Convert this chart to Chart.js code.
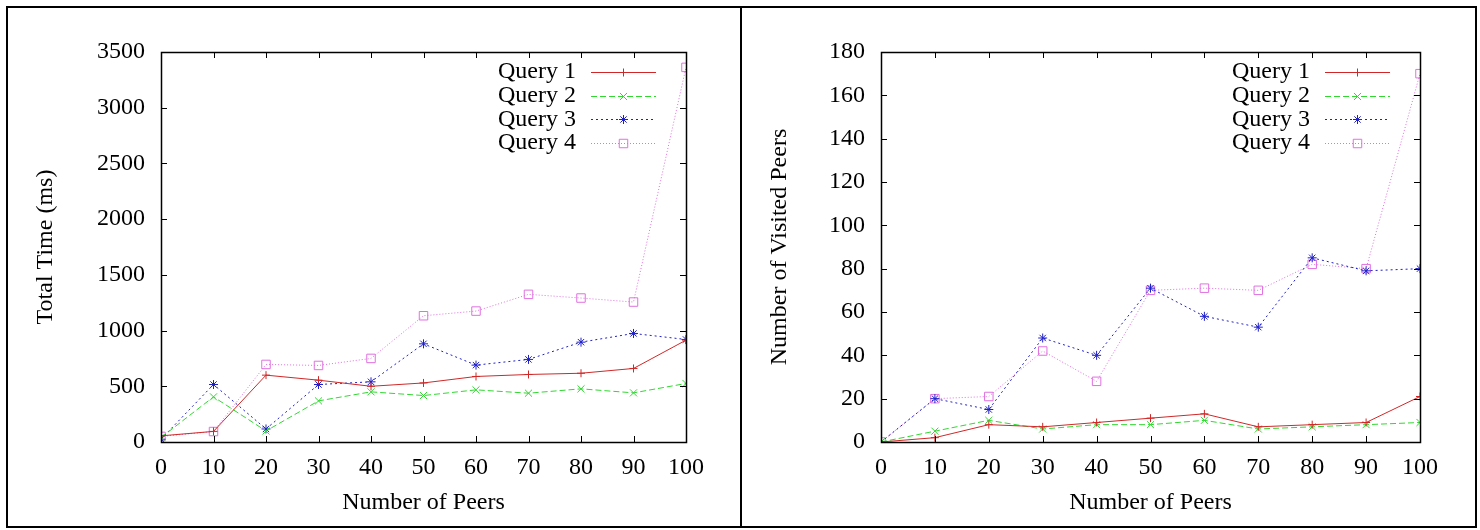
<!DOCTYPE html>
<html>
<head>
<meta charset="utf-8">
<script src="https://cdn.jsdelivr.net/npm/chart.js@4.4.1/dist/chart.umd.min.js"></script>
<style>
  html, body { margin: 0; padding: 0; background: #fff; width: 1480px; height: 530px; overflow: hidden; }
  #frame { position: absolute; left: 6px; top: 6px; width: 1467px; height: 518px; border: 2px solid #000; }
  #divider { position: absolute; left: 740px; top: 6px; width: 2px; height: 522px; background: #000; }
  #c1 { position: absolute; left: 8px; top: 8px; }
  #c2 { position: absolute; left: 742px; top: 8px; }
</style>
</head>
<body>
<div id="frame"></div>
<div id="divider"></div>
<canvas id="c1" width="732" height="518" style="width:732px;height:518px"></canvas>
<canvas id="c2" width="731" height="518" style="width:731px;height:518px"></canvas>
<script>
// ---- data ----
const peers = [0, 10, 20, 30, 40, 50, 60, 70, 80, 90, 100];
const seriesLabels = ['Query 1', 'Query 2', 'Query 3', 'Query 4'];

const timeQ1 = [55, 95, 600, 555, 500, 530, 588, 606, 617, 660, 914];
const timeQ2 = [40, 405, 99, 369, 450, 417, 468, 438, 477, 441, 525];
const timeQ3 = [25, 516, 117, 516, 540, 881, 690, 741, 896, 974, 920];
const timeQ4 = [50, 94, 696, 687, 750, 1133, 1175, 1325, 1292, 1256, 3362];

const visitQ1 = [0, 2, 8, 7, 9, 11, 13, 7, 8, 9, 21];
const visitQ2 = [0, 5, 10, 6, 8, 8, 10, 6, 7, 8, 9];
const visitQ3 = [0, 20, 15, 48, 40, 71, 58, 53, 85, 79, 80];
const visitQ4 = [0, 20, 21, 42, 28, 70, 71, 70, 82, 80, 170];

const xTicks = [0, 10, 20, 30, 40, 50, 60, 70, 80, 90, 100];
const timeTicks = [0, 500, 1000, 1500, 2000, 2500, 3000, 3500];
const visitTicks = [0, 20, 40, 60, 80, 100, 120, 140, 160, 180];

// ---- styles ----
const FONT = '"Liberation Serif", "Times New Roman", serif';
const FS = 24;
const styles = [
  { color: '#d02828', dash: [], point: 'cross', radius: 4 },
  { color: '#30d830', dash: [6, 3], point: 'crossRot', radius: 5 },
  { color: '#2020c8', dash: [2, 3], point: 'star', radius: 4.5 },
  { color: '#e070e0', dash: [1, 2], point: 'rect', radius: 6 }
];

function makeDatasets(arrs) {
  return arrs.map((vals, i) => ({
    label: seriesLabels[i],
    data: peers.map((p, j) => ({ x: p, y: vals[j] })),
    borderColor: styles[i].color,
    backgroundColor: 'rgba(0,0,0,0)',
    borderWidth: 1,
    borderDash: styles[i].dash,
    pointStyle: styles[i].point,
    pointRadius: styles[i].radius,
    pointBorderWidth: 1,
    pointBorderColor: styles[i].color,
    pointBackgroundColor: 'rgba(0,0,0,0)',
    tension: 0,
    fill: false
  }));
}

const framePlugin = {
  id: 'gnuFrame',
  afterDatasetsDraw(chart) {
    const ctx = chart.ctx;
    const a = chart.chartArea;
    const xs = chart.scales.x, ys = chart.scales.y;
    ctx.save();
    ctx.strokeStyle = '#000';
    ctx.lineWidth = 1;
    ctx.setLineDash([]);
    const TL = 6;
    ctx.beginPath();
    xs.ticks.forEach(t => {
      const px = Math.round(xs.getPixelForValue(t.value)) + 0.5;
      ctx.moveTo(px, a.bottom); ctx.lineTo(px, a.bottom - TL);
      ctx.moveTo(px, a.top); ctx.lineTo(px, a.top + TL);
    });
    ys.ticks.forEach(t => {
      const py = Math.round(ys.getPixelForValue(t.value)) + 0.5;
      ctx.moveTo(a.left, py); ctx.lineTo(a.left + TL, py);
      ctx.moveTo(a.right, py); ctx.lineTo(a.right - TL, py);
    });
    ctx.stroke();
    ctx.lineWidth = 1.5;
    ctx.strokeRect(Math.round(a.left) + 0.5, Math.round(a.top) + 0.5, Math.round(a.right - a.left), Math.round(a.bottom - a.top));
    // legend
    const textRight = a.right - 110;
    const lineL = a.right - 95, lineR = a.right - 30;
    ctx.font = FS + 'px ' + FONT;
    ctx.textAlign = 'right';
    ctx.textBaseline = 'middle';
    chart.data.datasets.forEach((ds, i) => {
      const y = a.top + 20 + i * 23.7;
      ctx.fillStyle = '#000';
      ctx.fillText(ds.label, textRight, y);
      ctx.strokeStyle = ds.borderColor;
      ctx.lineWidth = 1;
      ctx.setLineDash(ds.borderDash);
      ctx.beginPath();
      ctx.moveTo(lineL, Math.round(y) + 0.5);
      ctx.lineTo(lineR, Math.round(y) + 0.5);
      ctx.stroke();
      ctx.setLineDash([]);
      ctx.fillStyle = 'rgba(0,0,0,0)';
      Chart.helpers.drawPoint(ctx, {
        pointStyle: ds.pointStyle, radius: ds.pointRadius, rotation: 0, borderWidth: 1
      }, (lineL + lineR) / 2, Math.round(y) + 0.5);
    });
    ctx.restore();
  }
};

function makeChart(id, arrs, yTicks, yTitle, yWidth, padRight) {
  const ymax = yTicks[yTicks.length - 1];
  return new Chart(document.getElementById(id), {
    type: 'line',
    data: { datasets: makeDatasets(arrs) },
    options: {
      responsive: false,
      animation: false,
      events: [],
      layout: { padding: { left: 0, right: padRight, top: 44, bottom: 0 } },
      plugins: { legend: { display: false }, tooltip: { enabled: false } },
      scales: {
        x: {
          type: 'linear', min: xTicks[0], max: xTicks[xTicks.length - 1],
          afterBuildTicks: s => { s.ticks = xTicks.map(v => ({ value: v })); },
          afterFit: s => { s.height = 84; },
          grid: { display: false, drawTicks: false },
          border: { display: false },
          ticks: { color: '#000', padding: 11, font: { family: FONT, size: FS }, autoSkip: false, maxRotation: 0,
                   callback: v => String(v) },
          title: { display: true, text: 'Number of Peers', color: '#000', font: { family: FONT, size: FS }, padding: { top: 0, bottom: 9 } }
        },
        y: {
          type: 'linear', min: 0, max: ymax,
          afterBuildTicks: s => { s.ticks = yTicks.map(v => ({ value: v })); },
          afterFit: s => { s.width = yWidth; },
          grid: { display: false, drawTicks: false },
          border: { display: false },
          ticks: { color: '#000', padding: 16, font: { family: FONT, size: FS }, autoSkip: false,
                   callback: v => String(v) },
          title: { display: true, text: yTitle, color: '#000', font: { family: FONT, size: FS }, padding: { top: 23, bottom: 0 } }
        }
      }
    },
    plugins: [framePlugin]
  });
}

makeChart('c1', [timeQ1, timeQ2, timeQ3, timeQ4], timeTicks, 'Total Time (ms)', 153, 54);
makeChart('c2', [visitQ1, visitQ2, visitQ3, visitQ4], visitTicks, 'Number of Visited Peers', 139, 53);
</script>
</body>
</html>
